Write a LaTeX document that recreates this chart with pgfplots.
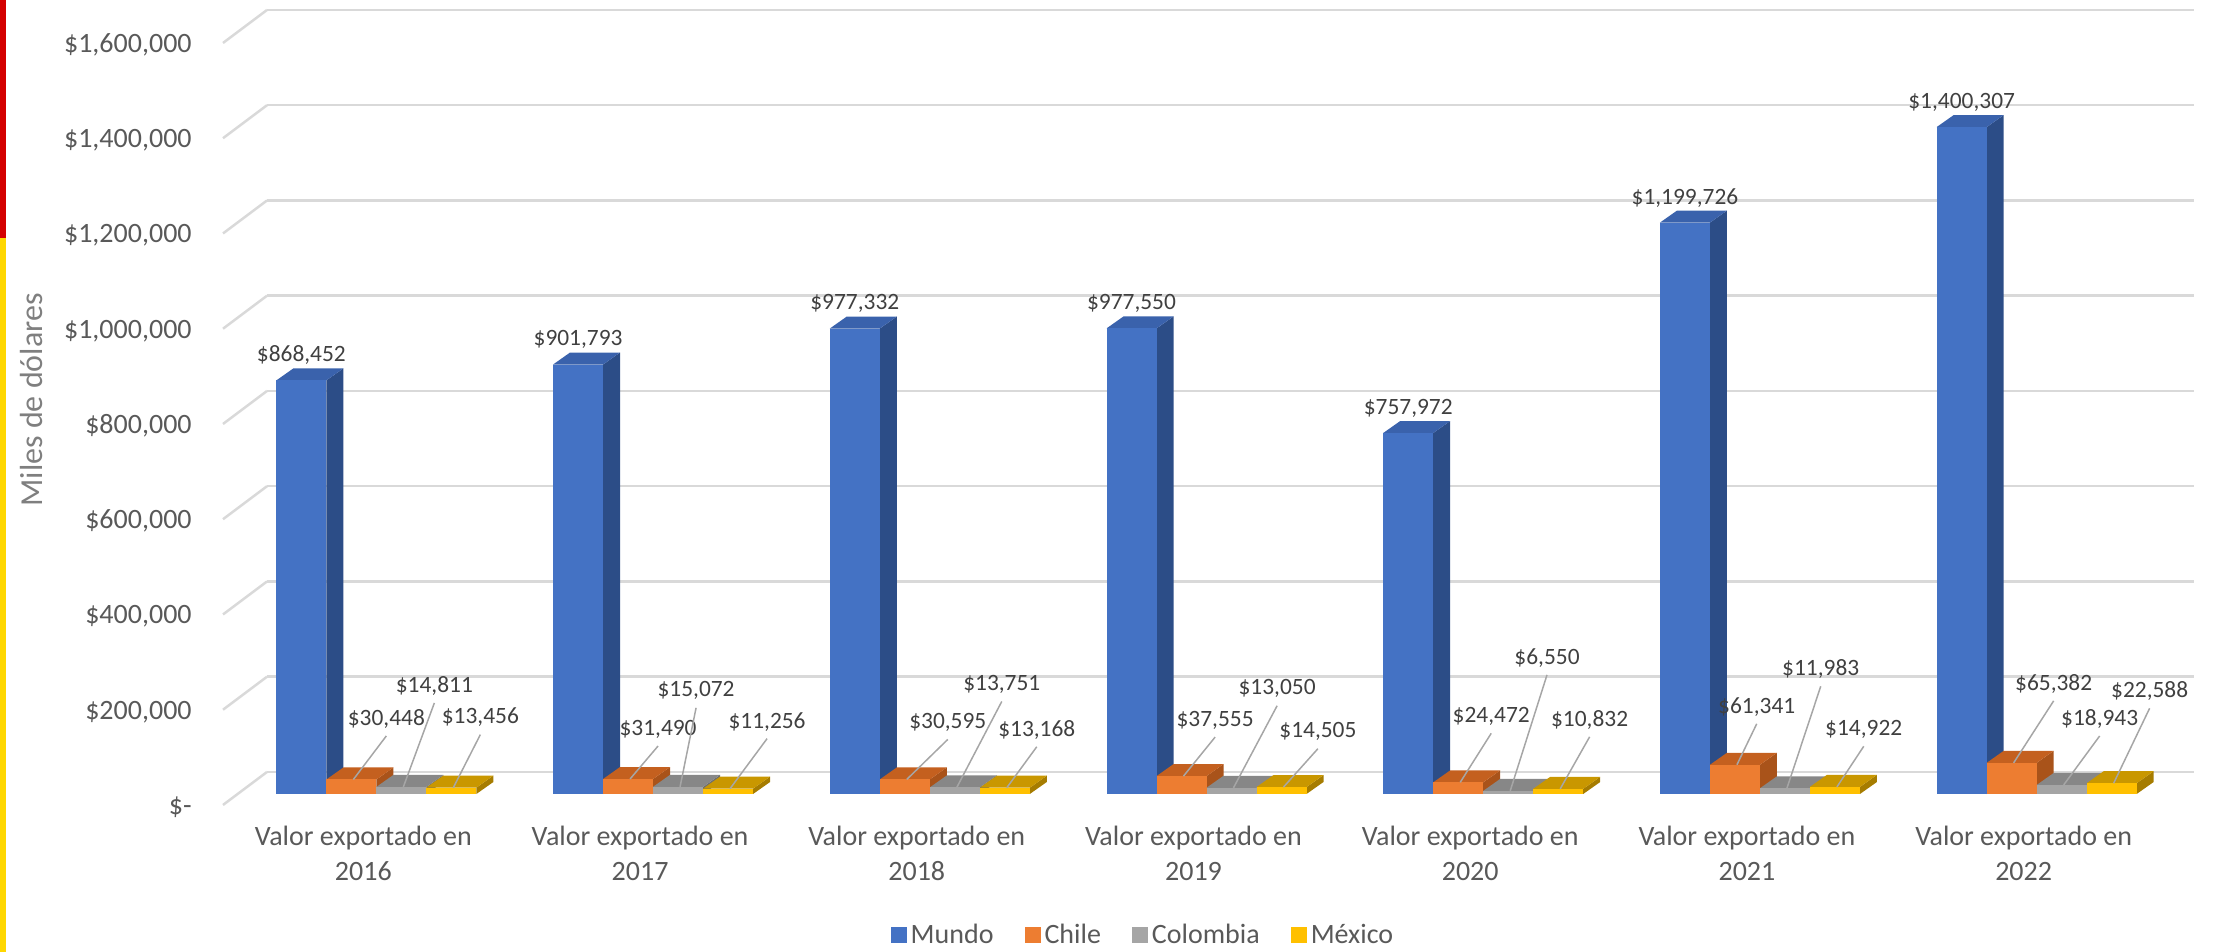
\documentclass[border=0pt]{standalone}
\usepackage{pgfplots}
\pgfplotsset{compat=1.18}
\usepackage{pgfplotstable}
\usepackage{fontspec}
\setmainfont{Carlito}

\definecolor{mundoF}{HTML}{4472C4}
\definecolor{mundoS}{HTML}{2C4D87}
\definecolor{mundoT}{HTML}{3A62AC}
\definecolor{chileF}{HTML}{ED7D31}
\definecolor{chileS}{HTML}{A9531A}
\definecolor{chileT}{HTML}{C4601F}
\definecolor{colF}{HTML}{A5A5A5}
\definecolor{colS}{HTML}{6E6E6E}
\definecolor{colT}{HTML}{878787}
\definecolor{mexF}{HTML}{FFC000}
\definecolor{mexS}{HTML}{A67C00}
\definecolor{mexT}{HTML}{C99700}
\definecolor{gridc}{HTML}{D9D9D9}
\definecolor{lbl}{HTML}{404040}
\definecolor{tickc}{HTML}{595959}
\definecolor{ylab}{HTML}{7F7F7F}
\definecolor{leader}{HTML}{A6A6A6}
\definecolor{stripeR}{HTML}{D40000}
\definecolor{stripeY}{HTML}{FFD700}

% x = category, y = value, lx/ly = label offset (pt) from the bar's front top
\pgfplotstableread{
x y
0 868452
1 901793
2 977332
3 977550
4 757972
5 1199726
6 1400307
}\mundotab
\pgfplotstableread{
x y lx ly
0 30448 17.5 30.3
1 31490 15 25
2 30595 21.5 28.5
3 37555 16.8 28
4 24472 16.5 33
5 61341 10.9 29
6 65382 21 39.5
}\chiletab
\pgfplotstableread{
x y lx ly
0 14811 16.5 50.5
1 15072 9 48
2 13751 23.5 51.5
3 13050 22.8 49.5
4 6550 19.4 66.5
5 11983 17.9 59.5
6 18943 19 33
}\coltab
\pgfplotstableread{
x y lx ly
0 13456 14.5 35
1 11256 19.5 33.5
2 13168 16 29
3 14505 18.2 27.7
4 10832 15.7 34.5
5 14922 14.4 28.8
6 22588 19 46
}\mextab

% 3d box drawn from the data point: #1 offset, #2 front, #3 side, #4 top
\newcommand\barbox[4]{%
  \pgfsetfillcolor{#3}%
  \pgfpathmoveto{\pgfpoint{#1pt+12.5pt}{-\H pt}}%
  \pgfpathlineto{\pgfpoint{#1pt+21pt}{-\H pt+6pt}}%
  \pgfpathlineto{\pgfpoint{#1pt+21pt}{6pt}}%
  \pgfpathlineto{\pgfpoint{#1pt+12.5pt}{0pt}}%
  \pgfpathclose\pgfusepath{fill}%
  \pgfsetfillcolor{#4}%
  \pgfpathmoveto{\pgfpoint{#1pt-12.5pt}{0pt}}%
  \pgfpathlineto{\pgfpoint{#1pt+12.5pt}{0pt}}%
  \pgfpathlineto{\pgfpoint{#1pt+21pt}{6pt}}%
  \pgfpathlineto{\pgfpoint{#1pt-4pt}{6pt}}%
  \pgfpathclose\pgfusepath{fill}%
  \pgfsetfillcolor{#2}%
  \pgfpathrectanglecorners{\pgfpoint{#1pt-12.5pt}{-\H pt}}{\pgfpoint{#1pt+12.5pt}{0pt}}%
  \pgfusepath{fill}%
}
\newcommand\leaderline[1]{%
  \pgfsetstrokecolor{leader}\pgfsetlinewidth{0.75pt}%
  \pgfpathmoveto{\pgfpoint{#1pt+\lx pt}{\ly pt-8.5pt}}%
  \pgfpathlineto{\pgfpoint{#1pt+1pt}{0pt}}%
  \pgfusepath{stroke}%
}
\pgfdeclareplotmark{mundo}{\barbox{-37.5}{mundoF}{mundoS}{mundoT}}
\pgfdeclareplotmark{chile}{\barbox{-12.5}{chileF}{chileS}{chileT}\leaderline{-12.5}}
\pgfdeclareplotmark{colombia}{\barbox{12.5}{colF}{colS}{colT}\leaderline{12.5}}
\pgfdeclareplotmark{mexico}{\barbox{37.5}{mexF}{mexS}{mexT}\leaderline{37.5}}

\pgfplotsset{
  /pgf/number format/.cd, fixed, precision=0, 1000 sep={,}, assume math mode=true,
  /pgfplots/.cd,
  small bar/.style={scatter, only marks, forget plot, mark=#1,
    visualization depends on={\thisrow{y}/4199.475 \as \H},
    visualization depends on={\thisrow{lx} \as \lx},
    visualization depends on={\thisrow{ly} \as \ly},
    nodes near coords={\$\pgfmathprintnumber{\pgfplotspointmeta}},
    nodes near coords style={text=lbl, font=\fontsize{11.7}{13}\selectfont, inner sep=0pt},
  },
}

\begin{document}
\begin{tikzpicture}
\path[use as bounding box] (0,0) rectangle (1107.5pt,476pt);
\fill[stripeR] (0,357pt) rectangle (3pt,476pt);
\fill[stripeY] (0,0) rectangle (3pt,357pt);
\node[rotate=90, text=ylab, font=\fontsize{16}{18}\selectfont] at (16pt,276pt) {Miles de dólares};

% back wall: gridlines and value labels
\begin{axis}[
    at={(133.5pt,90pt)}, anchor=south west,
    scale only axis, width=963.5pt, height=381pt,
    xmin=0, xmax=1, ymin=0, ymax=1600000,
    scaled y ticks=false,
    axis line style={draw=none},
    xtick=\empty,
    ytick={0,200000,400000,600000,800000,1000000,1200000,1400000,1600000},
    yticklabels={{\$-\hspace{6.5pt}},{\$200,000},{\$400,000},{\$600,000},{\$800,000},{\$1,000,000},{\$1,200,000},{\$1,400,000},{\$1,600,000}},
    major tick length=0pt,
    ymajorgrids, grid style={gridc, line width=1.25pt},
    yticklabel style={anchor=east, inner sep=0pt, xshift=-37.5pt, yshift=-17.5pt,
      font=\fontsize{14}{16}\selectfont, text=tickc},
    clip=false,
]
\pgfplotsinvokeforeach{0,200000,400000,600000,800000,1000000,1200000,1400000,1600000}{
  \draw[gridc, line width=1.25pt] (axis cs:0,#1) -- ++(-22pt,-16.5pt);
}
\end{axis}

% front plane: the bars
\begin{axis}[
    at={(119pt,79pt)}, anchor=south west,
    scale only axis, width=968.5pt, height=381pt,
    xmin=-0.5, xmax=6.5, ymin=0, ymax=1600000,
    scaled y ticks=false,
    axis line style={draw=none},
    ytick=\empty,
    xtick={0,1,2,3,4,5,6},
    xticklabels={{Valor exportado en\\2016},{Valor exportado en\\2017},{Valor exportado en\\2018},
      {Valor exportado en\\2019},{Valor exportado en\\2020},{Valor exportado en\\2021},{Valor exportado en\\2022}},
    major tick length=0pt,
    xticklabel style={anchor=north, align=center, inner sep=0pt, xshift=-6.5pt, yshift=-16pt,
      font=\fontsize{14}{17.5}\selectfont, text=tickc},
    clip=false,
    legend columns=4,
    legend style={at={(axis description cs:0.4677,-0.185)}, anchor=center, draw=none, fill=none,
      font=\fontsize{14}{16}\selectfont, text=tickc,
      /tikz/every even column/.append style={column sep=13.5pt}},
    legend image code/.code={\fill[#1] (0pt,-4pt) rectangle (8pt,4pt);},
]
\addplot[scatter, only marks, forget plot, mark=mundo,
    visualization depends on={\thisrow{y}/4199.475 \as \H},
    nodes near coords={\$\pgfmathprintnumber{\pgfplotspointmeta}},
    nodes near coords style={text=lbl, font=\fontsize{11.7}{13}\selectfont, inner sep=0pt},
    every node near coord/.append style={anchor=center, xshift=-37.5pt, yshift=12.5pt}]
  table[x=x, y=y] {\mundotab};
\addplot[small bar=chile,
    every node near coord/.append style={anchor=center, xshift={(\lx-12.5)*1pt}, yshift={\ly*1pt}}]
  table[x=x, y=y] {\chiletab};
\addplot[small bar=colombia,
    every node near coord/.append style={anchor=center, xshift={(\lx+12.5)*1pt}, yshift={\ly*1pt}}]
  table[x=x, y=y] {\coltab};
\addplot[small bar=mexico,
    every node near coord/.append style={anchor=center, xshift={(\lx+37.5)*1pt}, yshift={\ly*1pt}}]
  table[x=x, y=y] {\mextab};

\addlegendimage{fill=mundoF, draw=none}\addlegendentry{Mundo}
\addlegendimage{fill=chileF, draw=none}\addlegendentry{Chile}
\addlegendimage{fill=colF, draw=none}\addlegendentry{Colombia}
\addlegendimage{fill=mexF, draw=none}\addlegendentry{México}
\end{axis}
\end{tikzpicture}
\end{document}
